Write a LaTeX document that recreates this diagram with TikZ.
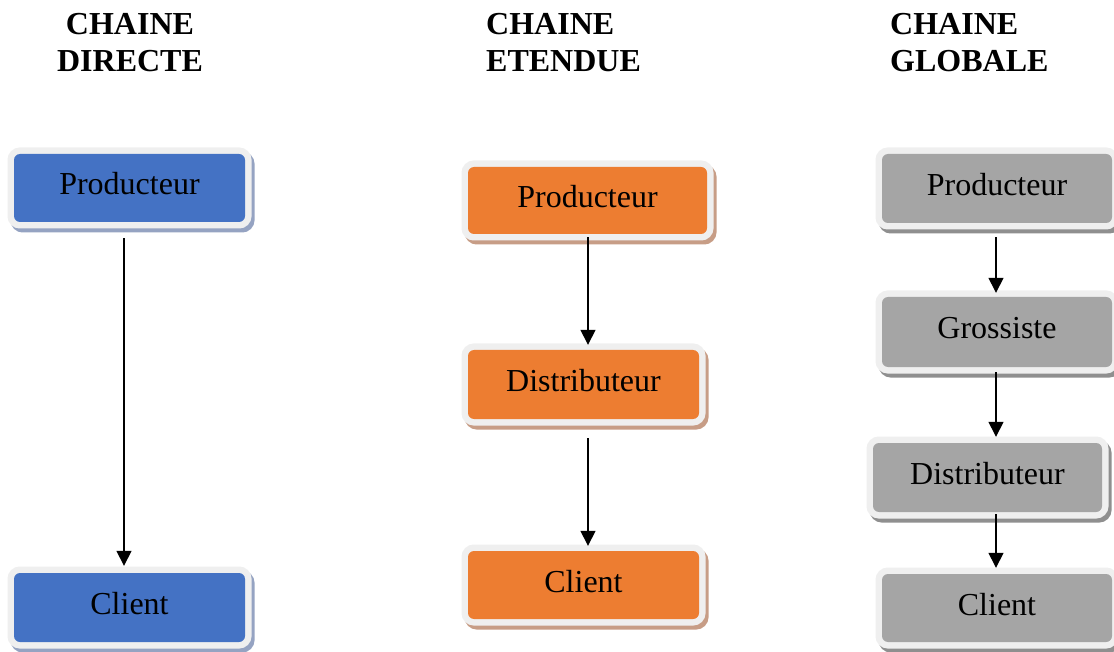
\documentclass[tikz,border=0pt]{standalone}
\usepackage{fontspec}
\setmainfont{Liberation Serif}
\usetikzlibrary{arrows.meta}

\definecolor{cblue}{HTML}{4472C4}
\definecolor{corange}{HTML}{ED7D31}
\definecolor{cgray}{HTML}{A5A5A5}
\definecolor{sblue}{HTML}{95A3C2}
\definecolor{sorange}{HTML}{C79D86}
\definecolor{sgray}{HTML}{8F8F8F}
\definecolor{framegray}{HTML}{EFEFEF}

\newcommand\boxfont{\fontsize{32}{38}\selectfont}
\newcommand\titlefont{\fontsize{32}{37}\selectfont\bfseries}

\tikzset{
  stagebox/.style 2 args={
    fill=#1, rounded corners=6pt, inner sep=0pt,
    text height=22pt, text depth=8pt, font=\boxfont,
    preaction={draw=#2, line width=13pt, transform canvas={shift={(3pt,-4pt)}}},
    preaction={draw=framegray, line width=13pt}},
  bluebox/.style={stagebox={cblue}{sblue}},
  orangebox/.style={stagebox={corange}{sorange}},
  graybox/.style={stagebox={cgray}{sgray}},
  flow/.style={line width=1.5pt, -{Triangle[length=15pt,width=15pt]}},
  title/.style={font=\titlefont, inner sep=0pt}
}

\begin{document}
\begin{tikzpicture}[x=1pt,y=-1pt]
  \useasboundingbox (0,0) rectangle (1114,652);

  % column titles
  \node[title, anchor=base] (t1a) at (130,35) {CHAINE};
  \node[title, anchor=base] (t1b) at (130,72) {DIRECTE};
  \node[title, anchor=base west] (t2a) at (486,35) {CHAINE};
  \node[title, anchor=base west] (t2b) at (486,72) {ETENDUE};
  \node[title, anchor=base west] (t3a) at (890,35) {CHAINE};
  \node[title, anchor=base west] (t3b) at (890,72) {GLOBALE};

  % direct chain
  \node[bluebox, minimum width=231pt, minimum height=68pt] (dp) at (129.5,188) {Producteur};
  \node[bluebox, minimum width=231pt, minimum height=69pt] (dc) at (129.5,607.5) {Client};

  % extended chain
  \node[orangebox, minimum width=239pt, minimum height=67pt] (ep) at (587.5,200.5) {Producteur};
  \node[orangebox, minimum width=231pt, minimum height=69pt] (ed) at (583.5,384.5) {Distributeur};
  \node[orangebox, minimum width=231pt, minimum height=68pt] (ec) at (583.5,585) {Client};

  % global chain
  \node[graybox, minimum width=230pt, minimum height=69pt] (gp) at (997,188.5) {Producteur};
  \node[graybox, minimum width=230pt, minimum height=70pt] (gg) at (997,332) {Grossiste};
  \node[graybox, minimum width=229pt, minimum height=69pt] (gd) at (987.5,477.5) {Distributeur};
  \node[graybox, minimum width=230pt, minimum height=68pt] (gc) at (997,608) {Client};

  % arrow axes
  \coordinate (ax1) at (124,0);
  \coordinate (ax2) at (588,0);
  \coordinate (ax3) at (996,0);

  \draw[flow, shorten <=16pt, shorten >=7pt] (dp.south -| ax1) -- (dc.north -| ax1);

  \draw[flow, shorten <=3pt, shorten >=5pt] (ep.south -| ax2) -- (ed.north -| ax2);
  \draw[flow, shorten <=19pt, shorten >=5pt] (ed.south -| ax2) -- (ec.north -| ax2);

  \draw[flow, shorten <=14pt, shorten >=4pt] (gp.south -| ax3) -- (gg.north -| ax3);
  \draw[flow, shorten <=5pt, shorten >=6pt] (gg.south -| ax3) -- (gd.north -| ax3);
  \draw[flow, shorten <=2pt, shorten >=6pt] (gd.south -| ax3) -- (gc.north -| ax3);
\end{tikzpicture}
\end{document}
